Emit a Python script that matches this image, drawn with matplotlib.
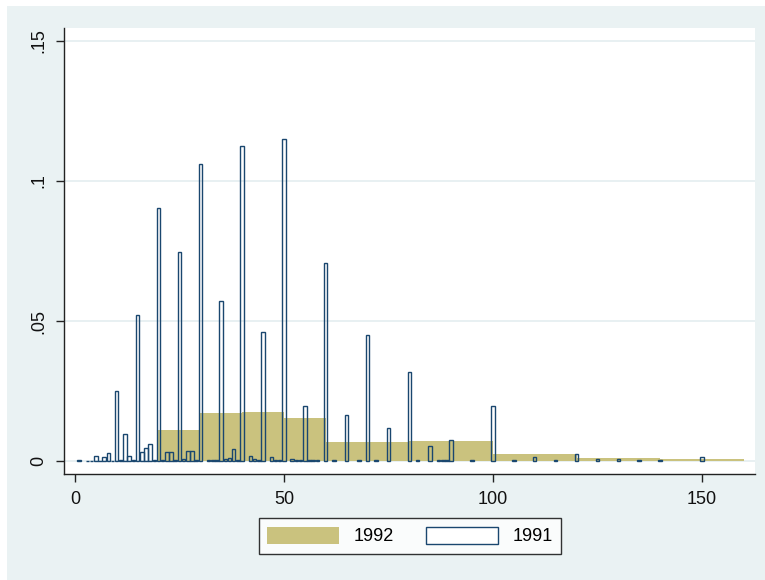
import numpy as np
import matplotlib
matplotlib.use('Agg')
import matplotlib.pyplot as plt
from matplotlib.patches import Patch, Rectangle

plt.rcParams['font.family'] = ['Liberation Sans', 'DejaVu Sans']

# 1992: grouped bins (edges) and densities
edges_1992 = [20, 30, 40, 50, 60, 80, 100, 120, 140, 160]
dens_1992 = [0.011, 0.0170, 0.0175, 0.0155, 0.0067, 0.0071, 0.0027, 0.0012, 0.0006]

# 1991: width-1 bins, value and density
vals_1991 = [1, 3, 4, 5, 6, 7, 8, 9, 10, 11, 12, 13, 14, 15, 16, 17, 18, 19,
             20, 21, 22, 23, 24, 25, 26, 27, 28, 29, 30, 32, 33, 34, 35, 36, 37,
             38, 39, 40, 42, 43, 44, 45, 47, 48, 49, 50, 52, 53, 54, 55, 56, 57,
             58, 60, 62, 65, 68, 70, 72, 75, 80, 82, 85, 87, 88, 89, 90, 95, 100,
             105, 110, 115, 120, 125, 130, 135, 140, 150]
dens_1991 = [0.0003, 0.0002, 0.0002, 0.002, 0.0002, 0.0013, 0.0028, 0.0002,
             0.025, 0.0003, 0.0098, 0.002, 0.0003, 0.052, 0.0032, 0.0047, 0.006,
             0.0003, 0.0905, 0.0003, 0.0033, 0.0033, 0.0003, 0.0745, 0.0008,
             0.0037, 0.0037, 0.0003, 0.106, 0.0005, 0.0005, 0.0003, 0.057,
             0.0008, 0.0012, 0.0043, 0.0003, 0.1125, 0.002, 0.0008, 0.0003,
             0.046, 0.0015, 0.0003, 0.0003, 0.115, 0.0008, 0.0003, 0.0003,
             0.0196, 0.0003, 0.0003, 0.0003, 0.0707, 0.0004, 0.0164, 0.0004,
             0.045, 0.0004, 0.0118, 0.0318, 0.0004, 0.0054, 0.0003, 0.0003,
             0.0003, 0.0075, 0.0004, 0.0196, 0.0004, 0.0015, 0.0004, 0.0027,
             0.0009, 0.0009, 0.0004, 0.0004, 0.0015]

xticks = [0, 50, 100, 150]
yticks = [0, 0.05, 0.1, 0.15]
ytick_labels = ['0', '.05', '.1', '.15']

khaki = '#CAC27E'
navy = '#1A476F'
bg = '#EAF2F3'

fig = plt.figure(figsize=(7.65, 5.8), dpi=100, facecolor='white')
# Stata-like graph region, inset a few pixels from top/left
fig.patches.append(Rectangle((7 / 765, 0), 1, 1 - 6 / 580, transform=fig.transFigure,
                             facecolor=bg, edgecolor='none', zorder=-10))

ax = fig.add_axes([64 / 765, 1 - 474 / 580, 691 / 765, 446 / 580])
ax.set_facecolor('white')

widths = np.diff(edges_1992)
ax.bar(edges_1992[:-1], dens_1992, width=widths, align='edge',
       color=khaki, edgecolor='none', zorder=2)
ax.bar(vals_1991, dens_1991, width=0.85, align='center',
       facecolor='none', edgecolor=navy, linewidth=1.0, zorder=3)

ax.set_xlim(-2.6, 162.7)
ax.set_ylim(-0.0046, 0.1546)
ax.set_xticks(xticks)
ax.set_yticks(yticks)
ax.set_yticklabels(ytick_labels, rotation=90, va='center')
ax.grid(axis='y', color='#E4EEF0', linewidth=1.2, zorder=0)
ax.set_axisbelow(True)

for s in ['top', 'right']:
    ax.spines[s].set_visible(False)
for s in ['left', 'bottom']:
    ax.spines[s].set_color('#222222')
    ax.spines[s].set_linewidth(1.0)
ax.tick_params(axis='both', length=6, width=1.0, color='#222222',
               labelsize=13, labelcolor='#111111')
ax.tick_params(axis='y', pad=6)
ax.tick_params(axis='x', pad=6)

handles = [Patch(facecolor=khaki, edgecolor='none', label='1992'),
           Patch(facecolor='white', edgecolor=navy, linewidth=1.0, label='1991')]
leg = fig.legend(handles=handles, loc='center', bbox_to_anchor=(410 / 765, 1 - 536 / 580),
                 ncol=2, fontsize=13, frameon=True, fancybox=False,
                 handlelength=4.0, handleheight=1.1, handletextpad=0.8,
                 columnspacing=1.8, borderpad=0.45, borderaxespad=0)
leg.get_frame().set_edgecolor('black')
leg.get_frame().set_linewidth(1.0)
leg.get_frame().set_facecolor('white')

fig.savefig('out.png', dpi=100, facecolor=fig.get_facecolor())
